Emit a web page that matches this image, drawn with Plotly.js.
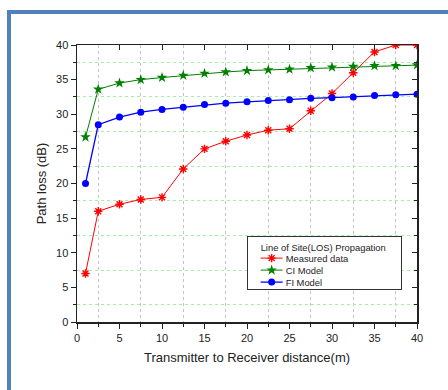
<!DOCTYPE html>
<html>
<head>
<meta charset="utf-8">
<script src="https://cdn.plot.ly/plotly-3.0.1.min.js"></script>
<style>
html,body{margin:0;padding:0;background:#fff;}
#wrap{position:relative;width:448px;height:390px;overflow:hidden;}
#chart{width:448px;height:390px;}
#frame{position:absolute;left:6.5px;top:9.5px;width:520px;height:520px;border:4px solid #4F81BD;pointer-events:none;box-sizing:border-box;}
</style>
</head>
<body>
<div id="wrap"><div id="chart"></div><div id="frame"></div></div>
<script>
const distance = [1, 2.5, 5, 7.5, 10, 12.5, 15, 17.5, 20, 22.5, 25, 27.5, 30, 32.5, 35, 37.5, 40];
const measured = [7, 16, 17, 17.7, 18, 22.1, 25, 26.1, 27, 27.7, 27.9, 30.5, 33, 36, 39, 40, 40];
const ciModel = [26.7, 33.6, 34.5, 35.0, 35.3, 35.6, 35.9, 36.1, 36.3, 36.4, 36.5, 36.7, 36.8, 36.9, 37.0, 37.0, 37.1];
const fiModel = [20, 28.5, 29.6, 30.3, 30.7, 31.0, 31.4, 31.6, 31.8, 32.0, 32.1, 32.3, 32.4, 32.5, 32.7, 32.8, 32.9];
const seriesNames = ['Measured data', 'CI Model', 'FI Model'];
const legendTitle = 'Line of Site(LOS) Propagation';
const xTitle = 'Transmitter to Receiver distance(m)';
const yTitle = 'Path loss (dB)';

const font = 'Liberation Sans, Arial, sans-serif';

const traces = [
  {x: distance, y: measured, name: seriesNames[0], mode: 'lines+markers',
   line: {color: '#FF0000', width: 1},
   marker: {symbol: 'asterisk-open', size: 7, color: '#FF0000', line: {color: '#FF0000', width: 1.4}}},
  {x: distance, y: ciModel, name: seriesNames[1], mode: 'lines+markers',
   line: {color: '#008000', width: 1},
   marker: {symbol: 'star', size: 8, color: '#008000'}},
  {x: distance, y: fiModel, name: seriesNames[2], mode: 'lines+markers',
   line: {color: '#0000FF', width: 1.3},
   marker: {symbol: 'circle', size: 7, color: '#0000FF'}},
  {x: distance, y: measured, xaxis: 'x2', yaxis: 'y2', mode: 'markers',
   marker: {opacity: 0}, showlegend: false, hoverinfo: 'skip'}
];

const layout = {
  width: 448, height: 390,
  margin: {l: 77, r: 31, t: 45, b: 68},
  paper_bgcolor: '#ffffff', plot_bgcolor: '#ffffff',
  font: {family: font, color: '#222', size: 11},
  showlegend: true,
  legend: {
    x: 0.499, y: 0.309, xanchor: 'left', yanchor: 'top',
    bgcolor: '#ffffff', bordercolor: '#333', borderwidth: 1,
    font: {family: font, size: 9.4, color: '#222'},
    title: {text: legendTitle, font: {family: font, size: 9.4, color: '#222'}},
    itemwidth: 30, tracegroupgap: 0
  },
  xaxis: {
    range: [0, 40], dtick: 5, tick0: 0,
    showgrid: false, zeroline: false,
    showline: true, linecolor: '#222', linewidth: 1.5,
    ticks: 'outside', ticklen: 5, tickwidth: 1, tickcolor: '#222',
    tickfont: {family: font, size: 11, color: '#222'},
    minor: {dtick: 5, tick0: 2.5, showgrid: true, gridcolor: '#c4c4c4', griddash: 'dot', gridwidth: 1,
            ticks: 'outside', ticklen: 3, tickcolor: '#222'},
    title: {text: xTitle, font: {family: font, size: 13, color: '#222'}, standoff: 10}
  },
  yaxis: {
    range: [0, 40], dtick: 5, tick0: 0,
    showgrid: false, zeroline: false,
    showline: true, linecolor: '#222', linewidth: 1.5,
    ticks: 'outside', ticklen: 5, tickwidth: 1, tickcolor: '#222',
    tickfont: {family: font, size: 11, color: '#222'},
    minor: {dtick: 5, tick0: 2.5, showgrid: true, gridcolor: '#a6f0a6', griddash: 'dot', gridwidth: 1,
            ticks: 'outside', ticklen: 3, tickcolor: '#222'},
    title: {text: yTitle, font: {family: font, size: 13, color: '#222'}, standoff: 6}
  },
  xaxis2: {
    overlaying: 'x', side: 'top', anchor: 'y2', range: [0, 40], dtick: 5,
    showgrid: false, zeroline: false, showticklabels: false,
    showline: true, linecolor: '#222', linewidth: 1.5,
    ticks: 'inside', ticklen: 5, tickcolor: '#222'
  },
  yaxis2: {
    overlaying: 'y', side: 'right', anchor: 'x2', range: [0, 40], dtick: 5,
    showgrid: false, zeroline: false, showticklabels: false,
    showline: true, linecolor: '#222', linewidth: 1.5,
    ticks: 'inside', ticklen: 5, tickcolor: '#222',
    minor: {dtick: 5, tick0: 2.5, ticks: 'inside', ticklen: 3, tickcolor: '#222'}
  }
};

// compact the legend like the original (box 154x53, rows ~12px apart)
function compactLegend(gd) {
  const leg = gd.querySelector('.legend');
  if (!leg) return;
  const BOX_W = 154, BOX_H = 53, PAD_L = 14, ROW0 = 21.7, ROW = 12, TITLE_Y = 11;
  leg.querySelectorAll('[clip-path]').forEach(function (el) { el.removeAttribute('clip-path'); });
  const bg = leg.querySelector('rect.bg');
  if (bg) { bg.setAttribute('width', BOX_W); bg.setAttribute('height', BOX_H); }
  const title = leg.querySelector('.legendtitletext');
  if (title) {
    const b = title.getBBox();
    const prev = title.getAttribute('transform') || '';
    title.setAttribute('transform', 'translate(' + (PAD_L - b.x) + ',' + (TITLE_Y - (b.y + b.height / 2)) + ') ' + prev);
  }
  const items = leg.querySelectorAll('.traces');
  items.forEach(function (g, i) {
    const x0 = 5;
    const line = g.querySelector('.legendlines path');
    if (line) line.setAttribute('d', 'M' + x0 + ',0h22');
    g.querySelectorAll('.legendpoints path').forEach(function (p) {
      p.setAttribute('transform', 'translate(' + (x0 + 11) + ',0)');
    });
    const txt = g.querySelector('.legendtext');
    if (txt) {
      txt.setAttribute('x', x0 + 25);
      txt.querySelectorAll('tspan[x]').forEach(function (t) { t.setAttribute('x', x0 + 25); });
    }
    g.setAttribute('transform', 'translate(' + (PAD_L - x0) + ',' + (ROW0 + i * ROW) + ')');
  });
  const sb = leg.querySelector('.scrollbox');
  if (sb) sb.setAttribute('transform', 'translate(0,0)');
}

Plotly.newPlot('chart', traces, layout, {displayModeBar: false, staticPlot: true}).then(compactLegend);
</script>
</body>
</html>
